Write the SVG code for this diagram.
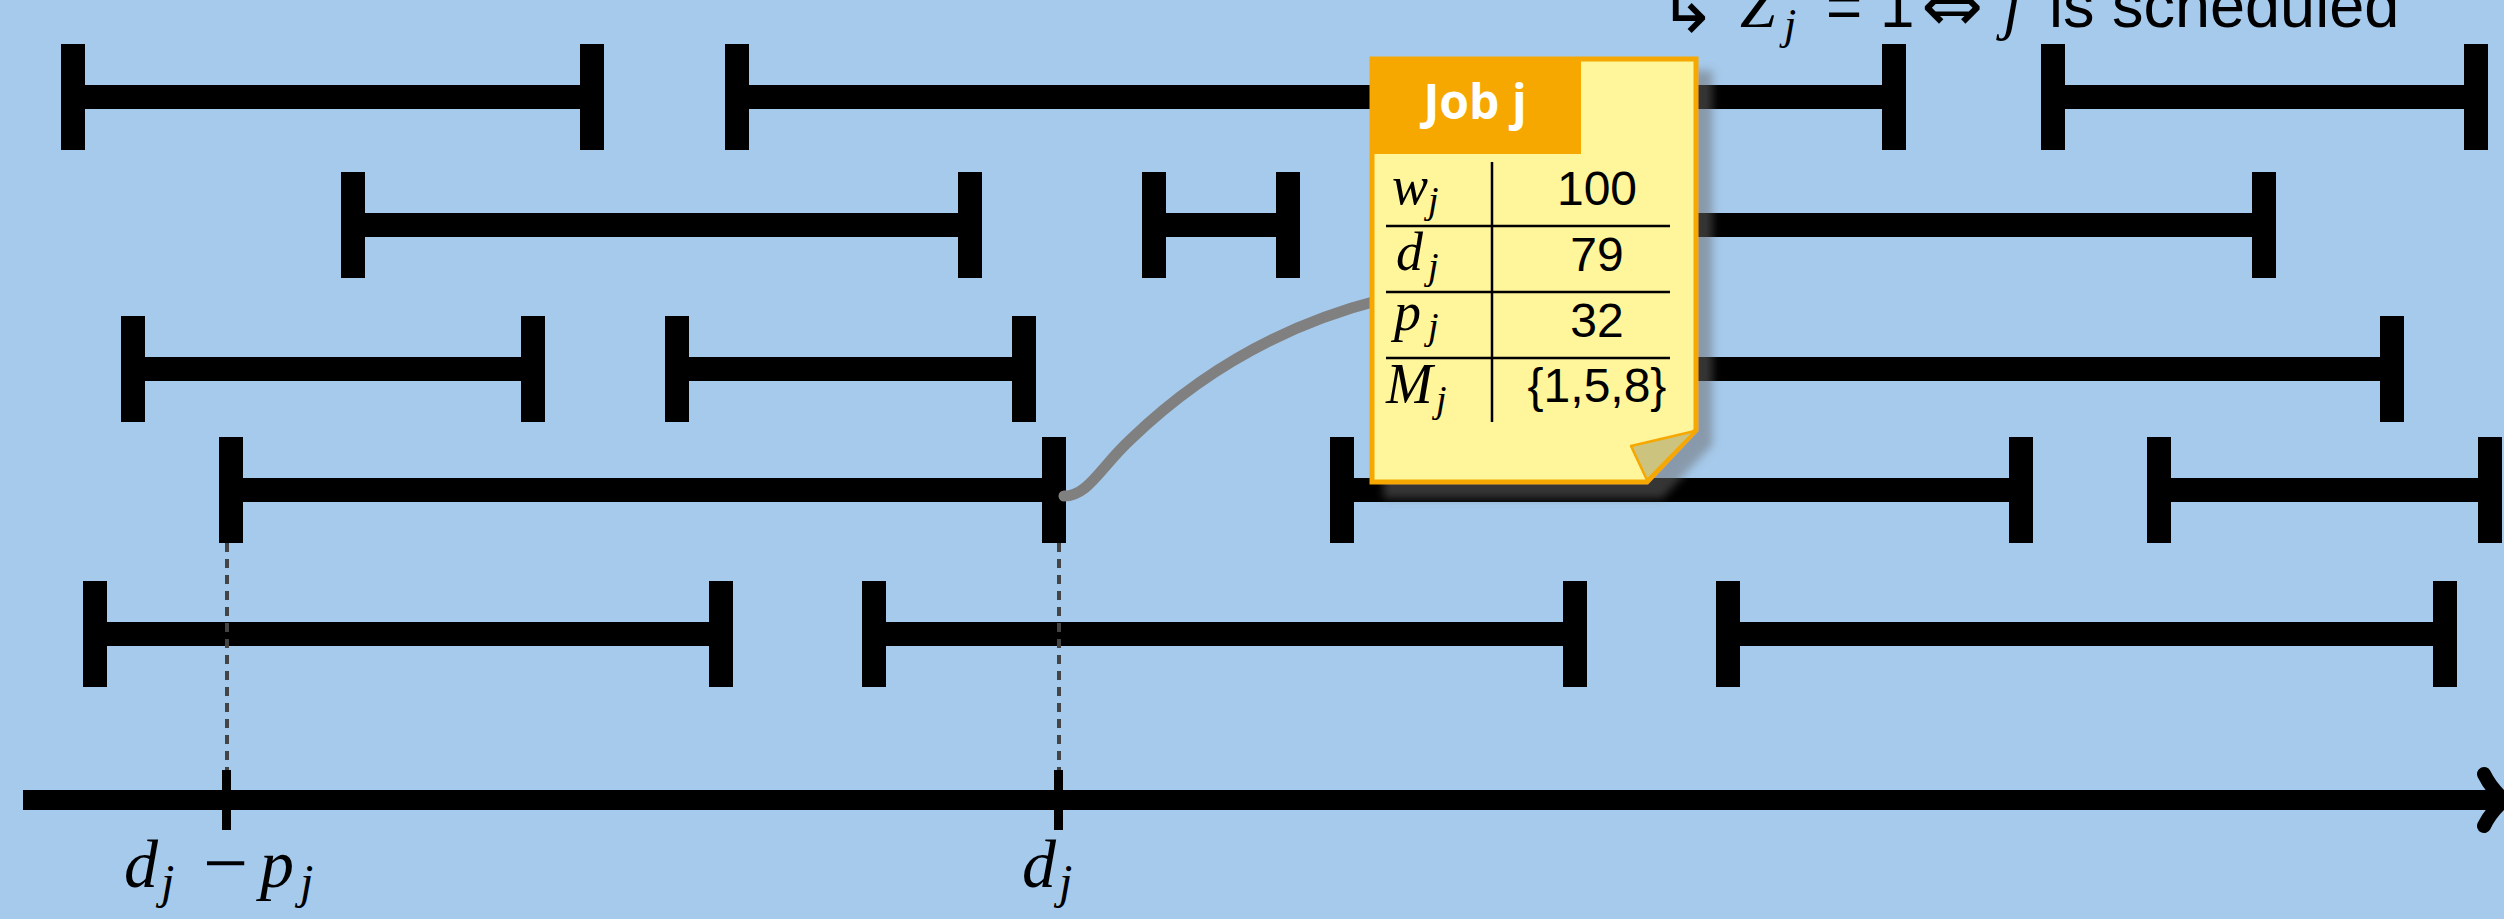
<svg xmlns="http://www.w3.org/2000/svg" width="2504" height="919" viewBox="0 0 2504 919">
<style>
.bar{fill:#000}
.mi{font-family:"Liberation Serif","DejaVu Serif",serif;font-style:italic;fill:#000}
.up{font-family:"Liberation Serif","DejaVu Serif",serif;fill:#000}
.sans{font-family:"Liberation Sans",Arial,sans-serif;fill:#000}
.sym{font-family:"DejaVu Sans",sans-serif;fill:#000}
.val{font-family:"Liberation Sans",Arial,sans-serif;font-size:48px;fill:#000;text-anchor:middle}
.tl{stroke:#000;stroke-width:2.5}
.dash{stroke:#444;stroke-width:4;stroke-dasharray:9 7}
</style>
<defs>
<filter id="sh" x="-10%" y="-10%" width="130%" height="130%">
<feGaussianBlur in="SourceAlpha" stdDeviation="4"/>
<feOffset dx="14" dy="14" result="b"/>
<feFlood flood-color="#6a6a6a" flood-opacity="0.5"/>
<feComposite in2="b" operator="in"/>
<feMerge><feMergeNode/><feMergeNode in="SourceGraphic"/></feMerge>
</filter>
</defs>
<rect width="2504" height="919" fill="#A6CAEC"/>

<!-- top text -->
<g id="caption">
<text class="sym" x="1658" y="32" font-size="70">↳</text>
<text class="mi" x="1740" y="27" font-size="64">Z</text>
<text class="mi" x="1784" y="39" font-size="44">j</text>
<text class="sans" x="1826" y="27" font-size="62">=</text>
<text class="sans" x="1880" y="27" font-size="62">1</text>
<text class="sym" x="1921" y="31" font-size="74">⇔</text>
<text class="mi" x="2003" y="27" font-size="64">j</text>
<text class="sans" x="2049" y="27" font-size="63">is scheduled</text>
</g>

<!-- intervals -->
<g id="r1a"><rect class="bar" x="61" y="44" width="24" height="106"/><rect class="bar" x="61" y="85" width="543" height="24"/><rect class="bar" x="580" y="44" width="24" height="106"/></g>
<g id="r1b"><rect class="bar" x="725" y="44" width="24" height="106"/><rect class="bar" x="725" y="85" width="1180" height="24"/><rect class="bar" x="1882" y="44" width="24" height="106"/></g>
<g id="r1c"><rect class="bar" x="2041" y="44" width="24" height="106"/><rect class="bar" x="2041" y="85" width="447" height="24"/><rect class="bar" x="2464" y="44" width="24" height="106"/></g>

<g id="r2a"><rect class="bar" x="341" y="172" width="24" height="106"/><rect class="bar" x="341" y="213" width="641" height="24"/><rect class="bar" x="958" y="172" width="24" height="106"/></g>
<g id="r2b"><rect class="bar" x="1142" y="172" width="24" height="106"/><rect class="bar" x="1142" y="213" width="158" height="24"/><rect class="bar" x="1276" y="172" width="24" height="106"/></g>
<g id="r2c"><rect class="bar" x="1560" y="172" width="24" height="106"/><rect class="bar" x="1560" y="213" width="716" height="24"/><rect class="bar" x="2252" y="172" width="24" height="106"/></g>

<g id="r3a"><rect class="bar" x="121" y="316" width="24" height="106"/><rect class="bar" x="121" y="357" width="424" height="24"/><rect class="bar" x="521" y="316" width="24" height="106"/></g>
<g id="r3b"><rect class="bar" x="665" y="316" width="24" height="106"/><rect class="bar" x="665" y="357" width="371" height="24"/><rect class="bar" x="1012" y="316" width="24" height="106"/></g>
<g id="r3c"><rect class="bar" x="1560" y="316" width="24" height="106"/><rect class="bar" x="1560" y="357" width="844" height="24"/><rect class="bar" x="2380" y="316" width="24" height="106"/></g>

<g id="r4a"><rect class="bar" x="219" y="437" width="24" height="106"/><rect class="bar" x="219" y="478" width="847" height="24"/><rect class="bar" x="1042" y="437" width="24" height="106"/></g>
<g id="r4b"><rect class="bar" x="1330" y="437" width="24" height="106"/><rect class="bar" x="1330" y="478" width="703" height="24"/><rect class="bar" x="2009" y="437" width="24" height="106"/></g>
<g id="r4c"><rect class="bar" x="2147" y="437" width="24" height="106"/><rect class="bar" x="2147" y="478" width="355" height="24"/><rect class="bar" x="2478" y="437" width="24" height="106"/></g>

<g id="r5a"><rect class="bar" x="83" y="581" width="24" height="106"/><rect class="bar" x="83" y="622" width="650" height="24"/><rect class="bar" x="709" y="581" width="24" height="106"/></g>
<g id="r5b"><rect class="bar" x="862" y="581" width="24" height="106"/><rect class="bar" x="862" y="622" width="725" height="24"/><rect class="bar" x="1563" y="581" width="24" height="106"/></g>
<g id="r5c"><rect class="bar" x="1716" y="581" width="24" height="106"/><rect class="bar" x="1716" y="622" width="741" height="24"/><rect class="bar" x="2433" y="581" width="24" height="106"/></g>

<!-- connectors -->
<g id="connectors">
<line class="dash" x1="227" y1="543" x2="227" y2="770"/>
<line class="dash" x1="1059" y1="543" x2="1059" y2="770"/>
<path d="M1064,496 C1088,496 1100,468 1130,440 C1190,382 1270,328 1380,300" fill="none" stroke="#808080" stroke-width="11" stroke-linecap="round"/>
</g>

<!-- axis -->
<g id="axis">
<rect x="23" y="790" width="2474" height="20" fill="#000"/>
<path d="M2484,774 Q2492,790 2505,800 Q2492,810 2484,826" fill="none" stroke="#000" stroke-width="14" stroke-linecap="round" stroke-linejoin="round"/>
<rect x="222" y="770" width="9" height="60" fill="#000"/>
<rect x="1054" y="770" width="9" height="60" fill="#000"/>
</g>

<g id="label-djpj">
<text class="mi" x="124" y="887" font-size="68">d</text>
<text class="mi" x="161" y="898" font-size="48">j</text>
<text class="up" x="203" y="890" font-size="80">−</text>
<text class="mi" x="260" y="887" font-size="68">p</text>
<text class="mi" x="300" y="898" font-size="48">j</text>
</g>
<g id="label-dj">
<text class="mi" x="1022" y="887" font-size="68">d</text>
<text class="mi" x="1059" y="898" font-size="48">j</text>
</g>

<!-- note -->
<g id="note">
<path d="M1372,59 H1696 V430 L1647,482 H1372 Z" fill="#FFF59B" stroke="#F6A700" stroke-width="5" filter="url(#sh)"/>
<rect x="1372" y="59" width="209" height="95" fill="#F6A700"/>
<path d="M1631,446 L1695,431 L1647,480 Z" fill="#CCC47E" stroke="#F6A700" stroke-width="2.5" stroke-linejoin="round"/>
<text x="1475" y="119" font-family="'Open Sans','Liberation Sans',sans-serif" font-weight="bold" font-size="48" fill="#fff" text-anchor="middle">Job j</text>
<line class="tl" x1="1492" y1="162" x2="1492" y2="422"/>
<line class="tl" x1="1386" y1="226" x2="1670" y2="226"/>
<line class="tl" x1="1386" y1="292" x2="1670" y2="292"/>
<line class="tl" x1="1386" y1="358" x2="1670" y2="358"/>
<text class="mi" x="1392" y="204" font-size="54">w</text><text class="mi" x="1428" y="213" font-size="38">j</text>
<text class="mi" x="1396" y="270" font-size="54">d</text><text class="mi" x="1428" y="279" font-size="38">j</text>
<text class="mi" x="1394" y="330" font-size="54">p</text><text class="mi" x="1428" y="339" font-size="38">j</text>
<text class="mi" x="1386" y="403" font-size="56">M</text><text class="mi" x="1436" y="412" font-size="38">j</text>
<text class="val" x="1597" y="205">100</text>
<text class="val" x="1597" y="271">79</text>
<text class="val" x="1597" y="337">32</text>
<text class="val" x="1597" y="402">{1,5,8}</text>
</g>
</svg>
